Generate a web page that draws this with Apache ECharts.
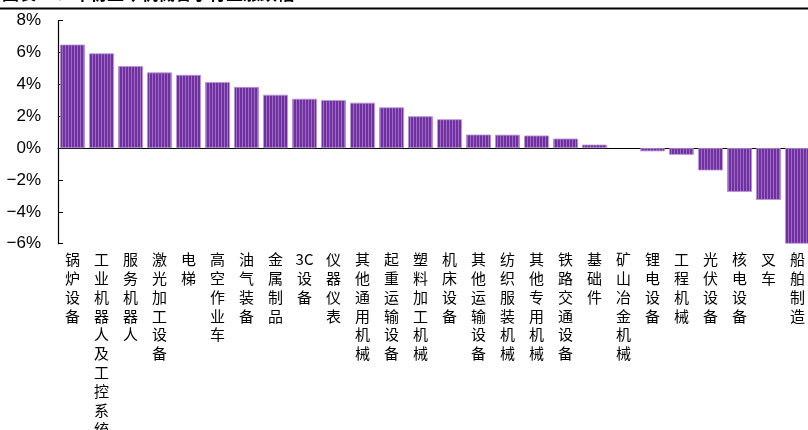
<!DOCTYPE html>
<html>
<head>
<meta charset="utf-8">
<script src="https://cdn.jsdelivr.net/npm/echarts@6/dist/echarts.min.js"></script>
<style>
html, body { margin: 0; padding: 0; overflow: hidden; background: #fff; }
#main { width: 812px; height: 430px; }
</style>
</head>
<body>
<div id="main"></div>
<script>
// 子行业名称
var categories = ['锅炉设备', '工业机器人及工控系统', '服务机器人', '激光加工设备', '电梯', '高空作业车',
    '油气装备', '金属制品', '3C设备', '仪器仪表', '其他通用机械', '起重运输设备', '塑料加工机械',
    '机床设备', '其他运输设备', '纺织服装机械', '其他专用机械', '铁路交通设备', '基础件',
    '矿山冶金机械', '锂电设备', '工程机械', '光伏设备', '核电设备', '叉车', '船舶制造'];
// 涨跌幅 (%)
var values = [6.5, 5.95, 5.15, 4.75, 4.6, 4.15, 3.84, 3.35, 3.1, 3.02, 2.85, 2.56, 2.0,
    1.81, 0.85, 0.84, 0.79, 0.6, 0.22, 0, -0.2, -0.42, -1.4, -2.75, -3.25, -6.0];
var yTicks = [-6, -4, -2, 0, 2, 4, 6, 8];

// 竖条纹填充
function stripePattern() {
    var c = document.createElement('canvas');
    c.width = 3; c.height = 4;
    var ctx = c.getContext('2d');
    ctx.fillStyle = '#7030a0';
    ctx.fillRect(0, 0, 3, 4);
    ctx.fillStyle = '#9c6cc4';
    ctx.fillRect(2, 0, 1, 4);
    return c;
}

// 竖排文字
function vertical(s) {
    var out = [];
    var i = 0;
    while (i < s.length) {
        if (s[i] === '3' && s[i + 1] === 'C') { out.push('3C'); i += 2; }
        else { out.push(s[i]); i++; }
    }
    return out.join('\n');
}

var barData = values.map(function (v) {
    return v === 0 ? { value: v, itemStyle: { borderWidth: 0 } } : v;
});

var chart = echarts.init(document.getElementById('main'));
chart.setOption({
    animation: false,
    grid: { left: 58, right: 0, top: 20.7, bottom: 186.3, outerBoundsMode: 'none', containLabel: false },
    graphic: [
        {
            type: 'text', left: 2, top: -15,
            style: { text: '图表25：年初至今机械各子行业涨跌幅', font: 'bold 17px "Noto Sans CJK SC"', fill: '#000' }
        },
        {
            type: 'rect', shape: { x: 0, y: 7.5, width: 812, height: 2 },
            style: { fill: '#000' }
        }
    ],
    xAxis: [
        {
            type: 'category',
            data: categories,
            axisLine: { onZero: true, lineStyle: { color: '#000', width: 1.2 } },
            axisTick: { inside: true, length: 4, lineStyle: { color: '#333' } },
            axisLabel: { show: false }
        },
        {
            type: 'category',
            data: categories,
            position: 'bottom',
            axisLine: { show: false },
            axisTick: { show: false },
            axisLabel: {
                interval: 0,
                margin: 6,
                lineHeight: 18.9,
                fontSize: 15,
                fontFamily: '"Noto Sans CJK SC"',
                color: '#000',
                verticalAlign: 'top',
                formatter: function (v) { return vertical(v); }
            }
        }
    ],
    yAxis: {
        type: 'value',
        min: yTicks[0],
        max: yTicks[yTicks.length - 1],
        interval: 2,
        splitLine: { show: false },
        axisLine: { show: true, lineStyle: { color: '#000', width: 1.2 } },
        axisTick: { show: true, inside: true, length: 5, lineStyle: { color: '#000' } },
        axisLabel: {
            margin: 17,
            fontSize: 17,
            fontFamily: '"Liberation Sans Narrow", "Liberation Sans", Arial',
            color: '#000',
            formatter: function (v) { return (v < 0 ? '\u2212' + (-v) : v) + '%'; }
        }
    },
    series: [
        {
            type: 'bar',
            xAxisIndex: 0,
            data: barData,
            barCategoryGap: '14%',
            itemStyle: {
                color: { image: stripePattern(), repeat: 'repeat' },
                borderColor: '#b896d4',
                borderWidth: 0.8
            }
        }
    ]
});
</script>
</body>
</html>
